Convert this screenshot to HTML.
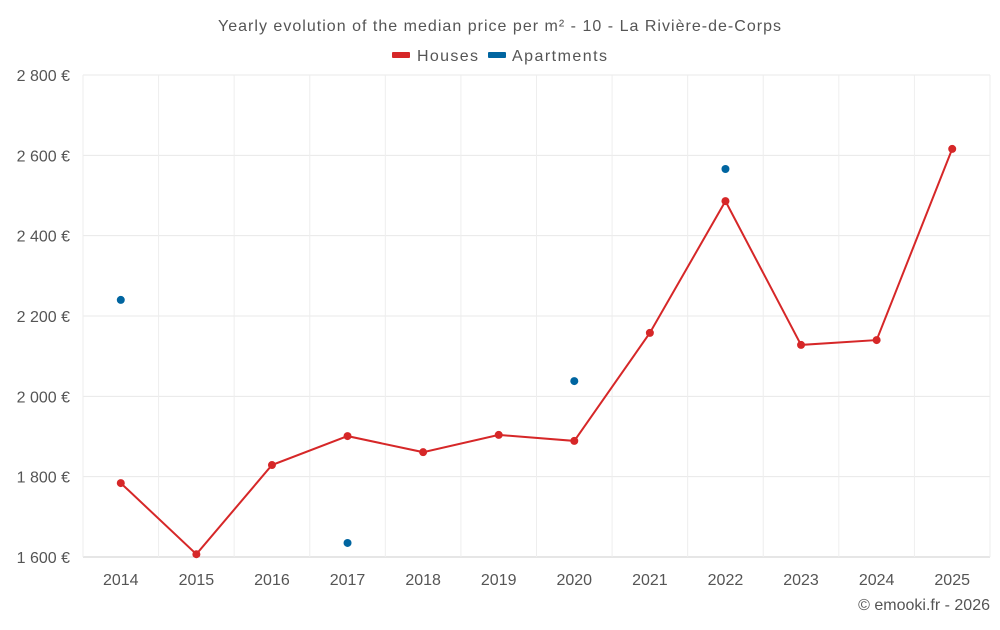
<!DOCTYPE html>
<html><head><meta charset="utf-8"><style>
body{margin:0;background:#fff;font-family:"Liberation Sans",sans-serif;}
svg text{font-family:"Liberation Sans",sans-serif;fill:#555;}
</style></head><body>
<svg id="chart" width="1000" height="625" xmlns="http://www.w3.org/2000/svg">
<text x="218" y="31" font-size="16" textLength="563" lengthAdjust="spacing">Yearly evolution of the median price per m² - 10 - La Rivière-de-Corps</text>
<g>
<g><rect x="392" y="52" width="18" height="6" fill="#d62728" rx="1"/><text x="417" y="61" font-size="16" textLength="61" lengthAdjust="spacing">Houses</text></g>
<g><rect x="488" y="52" width="18" height="6" fill="#0065a0" rx="1"/><text x="512" y="61" font-size="16" textLength="95" lengthAdjust="spacing">Apartments</text></g>
</g>
<g id="grid"></g><g id="axes"></g><g id="marks"></g>
<text x="990" y="610" text-anchor="end" font-size="16">© emooki.fr - 2026</text>
</svg>
<script>
const years=["2014","2015","2016","2017","2018","2019","2020","2021","2022","2023","2024","2025"];
const houses=[1784,1607,1829,1901,1861,1904,1889,2158,2486,2128,2140,2616];
const apartments=[2240,null,null,1635,null,null,2038,null,2566,null,null,null];
const yTicks=[1600,1800,2000,2200,2400,2600,2800];
const yLabels=["1 600 €","1 800 €","2 000 €","2 200 €","2 400 €","2 600 €","2 800 €"];
const NS="http://www.w3.org/2000/svg";
const L=83,R=990,T=75,B=557,yMin=1600,yMax=2800;
const bw=(R-L)/years.length;
function x(i){return L+bw*(i+0.5);}
function y(v){return B-(v-yMin)/(yMax-yMin)*(B-T);}
function mk(tag,attrs,parent){const e=document.createElementNS(NS,tag);for(const k in attrs)e.setAttribute(k,attrs[k]);parent.appendChild(e);return e;}
const grid=document.getElementById('grid'),axes=document.getElementById('axes'),marks=document.getElementById('marks');
yTicks.forEach((t,i)=>{
 const ln=mk('line',{x1:L,x2:R,y1:y(t),y2:y(t),stroke:i==0?'#ccc':'#e8e8e8','stroke-width':1},grid);
 
 
 const tx=mk('text',{x:70,y:y(t)+6,'text-anchor':'end','font-size':16},axes);
 tx.textContent=yLabels[i];
 
 
});
for(let i=0;i<=years.length;i++){
 const ln=mk('line',{x1:L+bw*i,x2:L+bw*i,y1:T,y2:B,stroke:'#eee','stroke-width':1},grid);
 
 
}
years.forEach((yr,i)=>{
 const tx=mk('text',{x:x(i),y:585,'text-anchor':'middle','font-size':16},axes);
 tx.textContent=yr;
 
 
});
const pl=mk('polyline',{points:houses.map((v,i)=>x(i)+','+y(v)).join(' '),fill:'none',stroke:'#d62728','stroke-width':2},marks);


houses.forEach((v,i)=>{
 const c=mk('circle',{cx:x(i),cy:y(v),r:4,fill:'#d62728'},marks);
 
 
});
apartments.forEach((v,i)=>{
 if(v==null)return;
 const c=mk('circle',{cx:x(i),cy:y(v),r:4,fill:'#0065a0'},marks);
 
 
});
</script>
</body></html>
